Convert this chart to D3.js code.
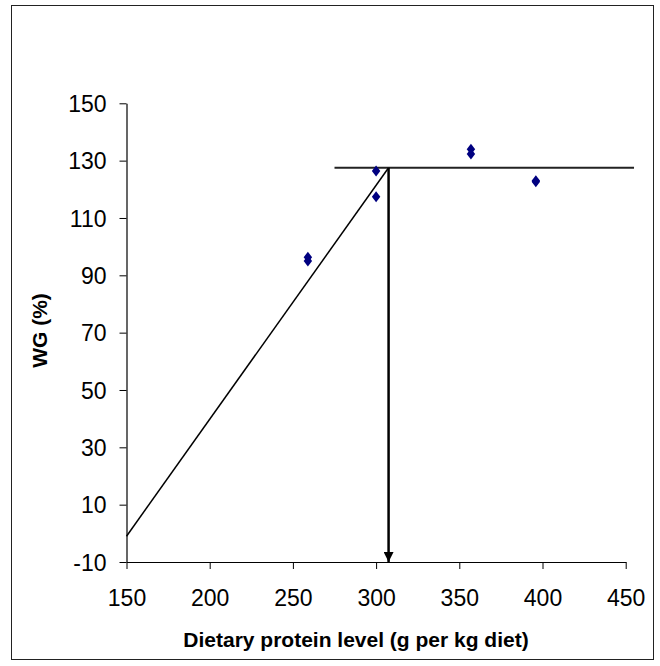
<!DOCTYPE html>
<html>
<head>
<meta charset="utf-8">
<script src="https://cdnjs.cloudflare.com/ajax/libs/d3/7.8.5/d3.min.js"></script>
<style>
  body { margin: 0; background: #fff; }
  text { font-family: "Liberation Sans", Arial, sans-serif; fill: #000; }
</style>
</head>
<body>
<script>
// observed weight gain points
var proteinLevels = [259, 259, 300, 300, 357, 357, 396, 396];
var weightGain = [96.3, 95.0, 126.4, 117.4, 134.0, 132.3, 123.0, 122.6];

// broken-line fit: rising segment, plateau, breakpoint
var riseX = [150, 307.5];
var riseY = [-1, 127.5];
var plateauX = [275, 455];
var plateauY = [127.5, 127.5];
var breakpoint = 307.5;

var xTicks = [150, 200, 250, 300, 350, 400, 450];
var yTicks = [-10, 10, 30, 50, 70, 90, 110, 130, 150];

var width = 660;
var height = 666;

var svg = d3.select('body')
            .append('svg')
            .attr('width', width)
            .attr('height', height);

svg.append('defs').append('marker')
   .attr('id', 'arrow')
   .attr('viewBox', '0 0 10 10')
   .attr('refX', 10)
   .attr('refY', 5)
   .attr('markerWidth', 4)
   .attr('markerHeight', 4)
   .attr('markerUnits', 'strokeWidth')
   .attr('orient', 'auto')
   .append('path')
   .attr('d', 'M0,0 L10,5 L0,10 z')
   .attr('fill', '#000');

// outer frame
svg.append('rect')
   .attr('x', 11.5)
   .attr('y', 5.5)
   .attr('width', 642)
   .attr('height', 654)
   .attr('fill', 'none')
   .attr('stroke', '#222')
   .attr('stroke-width', 1);

var x = d3.scaleLinear().domain([150, 450]).range([126.5, 625.7]);
var y = d3.scaleLinear().domain([-10, 150]).range([562, 103.3]);

// plain hyphen for negatives, like the original
var fmt = function(d) { return String(d); };

var xAxis = svg.append('g')
   .attr('transform', 'translate(0,' + y(-10) + ')')
   .call(d3.axisBottom(x).tickValues(xTicks).tickFormat(fmt)
         .tickSize(7).tickPadding(21).tickSizeOuter(0));

var yAxis = svg.append('g')
   .attr('transform', 'translate(' + x(150) + ',0)')
   .call(d3.axisLeft(y).tickValues(yTicks).tickFormat(fmt)
         .tickSize(7).tickPadding(13).tickSizeOuter(0));

[xAxis, yAxis].forEach(function(g) {
  g.select('.domain').attr('stroke', '#000').attr('stroke-width', 1.2);
  g.selectAll('.tick line').attr('stroke', '#000');
  g.selectAll('.tick text')
   .style('font-family', '"Liberation Sans", Arial, sans-serif')
   .style('font-size', '23px')
   .attr('fill', '#000');
});
yAxis.selectAll('.tick text').attr('dy', '0.36em');

var line = d3.line()
   .x(function(d) { return x(d[0]); })
   .y(function(d) { return y(d[1]); });

svg.append('path')
   .datum(d3.zip(riseX, riseY))
   .attr('d', line)
   .attr('fill', 'none')
   .attr('stroke', '#000')
   .attr('stroke-width', 1.5);

svg.append('path')
   .datum(d3.zip(plateauX, plateauY))
   .attr('d', line)
   .attr('fill', 'none')
   .attr('stroke', '#222')
   .attr('stroke-width', 2);

svg.append('line')
   .attr('x1', x(breakpoint))
   .attr('y1', y(plateauY[0]))
   .attr('x2', x(breakpoint))
   .attr('y2', y(-10))
   .attr('stroke', '#000')
   .attr('stroke-width', 2.5)
   .attr('marker-end', 'url(#arrow)');

var diamond = d3.symbol().type(d3.symbolDiamond).size(34);

svg.selectAll('path.pt')
   .data(d3.zip(proteinLevels, weightGain))
   .enter()
   .append('path')
   .attr('class', 'pt')
   .attr('d', diamond)
   .attr('transform', function(d) {
     return 'translate(' + x(d[0]) + ',' + y(d[1]) + ') scale(1.35,1)';
   })
   .attr('fill', '#000080');

svg.append('text')
   .attr('x', 356)
   .attr('y', 647)
   .attr('text-anchor', 'middle')
   .style('font-size', '21px')
   .style('font-weight', 'bold')
   .text('Dietary protein level (g per kg diet)');

svg.append('text')
   .attr('transform', 'translate(47,' + 330.5 + ') rotate(-90)')
   .attr('text-anchor', 'middle')
   .style('font-size', '21px')
   .style('font-weight', 'bold')
   .text('WG (%)');
</script>
</body>
</html>
